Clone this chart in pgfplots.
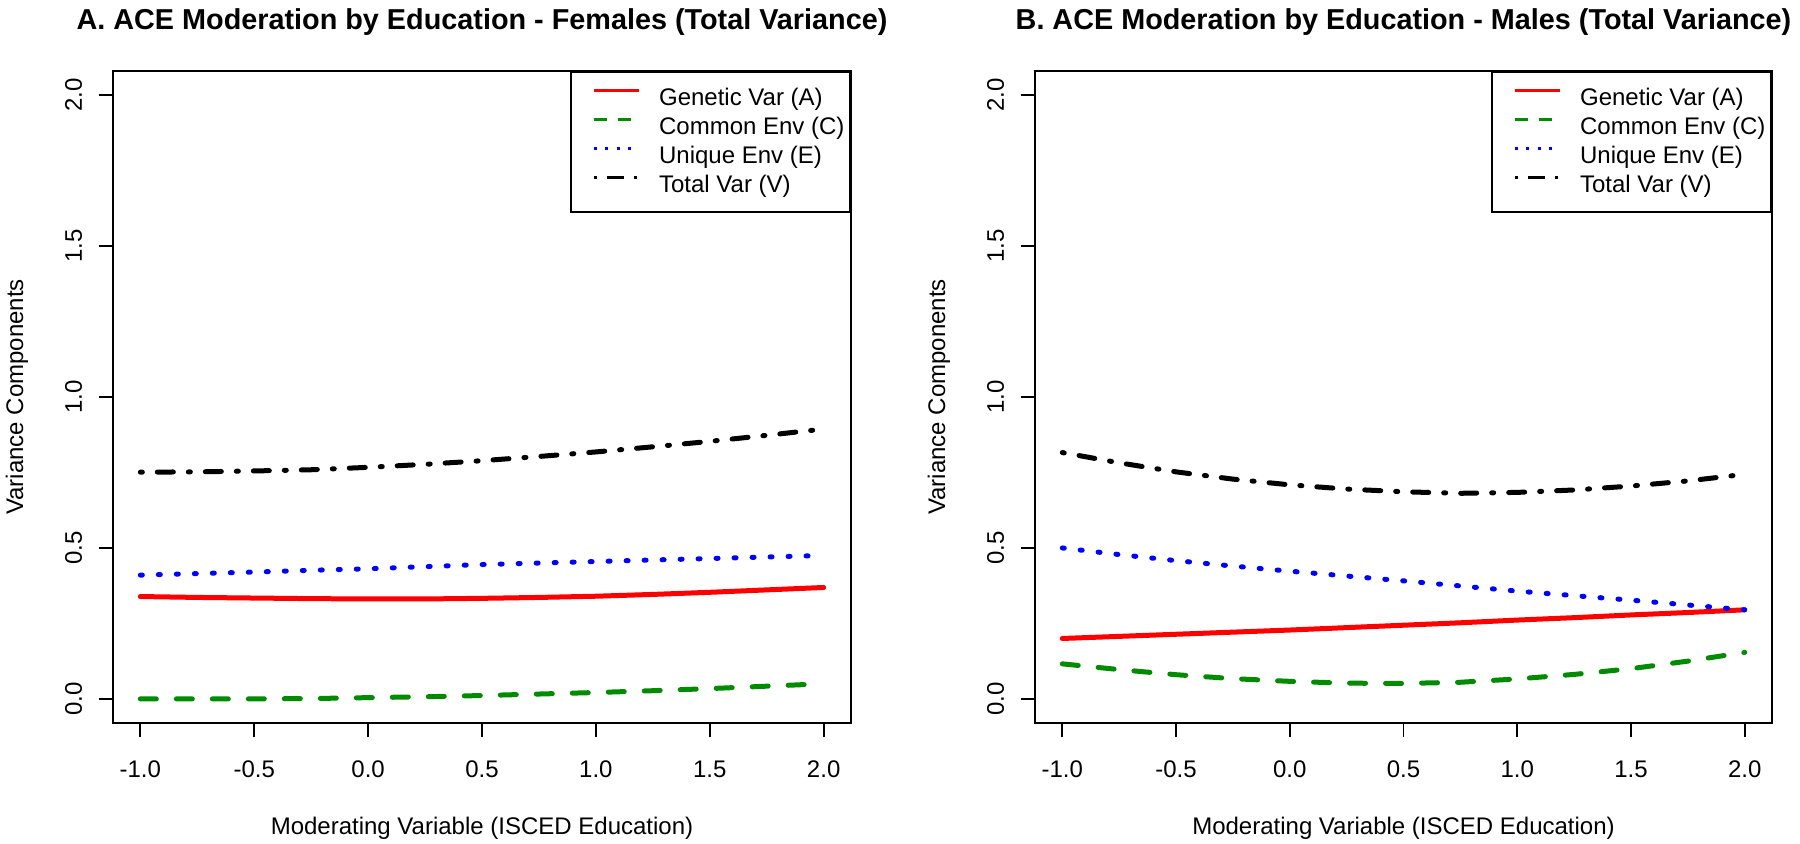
\documentclass[border=0pt]{standalone}
\usepackage{fontspec}
\setmainfont{Liberation Sans}
\usepackage{pgfplots}
\usepackage{pgfplotstable}
\pgfplotsset{compat=1.18}
\definecolor{rgreen}{RGB}{0,139,0}
\definecolor{rred}{RGB}{255,0,0}
\definecolor{rblue}{RGB}{0,0,255}

% Females
\pgfplotstableread{
x A C E V
-1.00 0.339 0.000 0.410 0.751
-0.75 0.336 0.000 0.415 0.752
-0.50 0.334 0.000 0.420 0.755
-0.25 0.332 0.001 0.426 0.759
0.00 0.331 0.004 0.431 0.767
0.25 0.331 0.007 0.438 0.777
0.50 0.333 0.011 0.445 0.789
0.75 0.336 0.016 0.450 0.803
1.00 0.340 0.021 0.455 0.818
1.25 0.346 0.027 0.460 0.835
1.50 0.353 0.034 0.465 0.853
1.75 0.361 0.042 0.470 0.873
2.00 0.369 0.050 0.475 0.894
}\female

% Males
\pgfplotstableread{
x A C E V
-1.00 0.200 0.116 0.500 0.816
-0.75 0.207 0.097 0.478 0.782
-0.50 0.214 0.080 0.458 0.752
-0.25 0.221 0.067 0.440 0.728
0.00 0.228 0.058 0.423 0.709
0.25 0.236 0.052 0.407 0.695
0.50 0.244 0.051 0.391 0.686
0.75 0.252 0.055 0.374 0.681
1.00 0.261 0.066 0.357 0.684
1.25 0.269 0.081 0.342 0.692
1.50 0.278 0.100 0.327 0.705
1.75 0.286 0.125 0.311 0.722
2.00 0.295 0.154 0.295 0.744
}\male

\pgfplotsset{
  rpanel/.style={
    scale only axis,
    width=369pt, height=326pt,
    anchor=south west,
    xmin=-1.12, xmax=2.12, ymin=-0.08, ymax=2.08,
    xtick={-1,-0.5,0,0.5,1,1.5,2},
    xticklabels={-1.0,-0.5,0.0,0.5,1.0,1.5,2.0},
    ytick={0,0.5,1,1.5,2},
    yticklabels={0.0,0.5,1.0,1.5,2.0},
    xtick pos=bottom, ytick pos=left,
    tick align=outside,
    major tick length=7.2pt,
    every tick/.style={black, line width=0.9pt},
    axis line style={line width=0.9pt},
    font=\fontsize{12pt}{14.4pt}\selectfont,
    xticklabel style={anchor=north, inner sep=0pt, yshift=-11.5pt, font=\fontsize{12pt}{14.4pt}\selectfont},
    yticklabel style={xshift=-8pt, rotate=90, anchor=south, inner sep=0pt, font=\fontsize{12pt}{14.4pt}\selectfont},
    every axis x label/.style={at={(axis description cs:0.5,0)}, anchor=center, yshift=-52.5pt, font=\fontsize{12pt}{14.4pt}\selectfont},
    every axis y label/.style={at={(axis description cs:0,0.5)}, anchor=center, xshift=-48pt, rotate=90, font=\fontsize{12pt}{14.4pt}\selectfont},
    title style={at={(axis description cs:0.5,1)}, anchor=base, yshift=15pt, font=\bfseries\fontsize{14.4pt}{17pt}\selectfont},
    xlabel={Moderating Variable (ISCED Education)},
    ylabel={Variance Components},
    legend cell align=left,
    legend style={at={(1,1)}, anchor=north east, draw=black, line width=0.9pt, fill=white,
      inner xsep=0pt, inner ysep=8pt, row sep=4pt,
      font=\fontsize{12pt}{14.4pt}\selectfont,
      nodes={inner sep=0pt}},
    legend image code/.code={\path (0pt,0pt) (43pt,0pt); \draw[##1] (11pt,4pt) -- (33.5pt,4pt);},
  },
  cA/.style={rred, line width=2.5pt, line cap=round, solid,
    legend image post style={line width=1.25pt, line cap=butt}},
  cC/.style={rgreen, line width=2.5pt, line cap=round, dash pattern=on 8pt off 10pt,
    legend image post style={line width=1.25pt, line cap=butt, dash pattern=on 6.5pt off 5.5pt}},
  cE/.style={rblue, line width=2.5pt, line cap=round, dash pattern=on 1pt off 8pt,
    legend image post style={line width=1.25pt, line cap=butt, dash pattern=on 1.5pt off 4.2pt}},
  cV/.style={black, line width=2.5pt, line cap=round, dash pattern=on 1pt off 7.5pt on 8pt off 7.5pt,
    legend image post style={line width=1.25pt, line cap=butt, dash pattern=on 1.5pt off 5pt on 8.5pt off 5pt}},
}
\newcommand{\lent}[1]{\makebox[95.5pt][l]{\rule[-3pt]{0pt}{12pt}#1}}

\begin{document}
\begin{tikzpicture}
\path[use as bounding box] (0,0) rectangle (900pt,421.5pt);
\begin{axis}[rpanel, at={(56.5pt,60pt)},
  title={A. ACE Moderation by Education - Females (Total Variance)}]
\addplot[cA] table[x=x,y=A] {\female};
\addlegendentry{\lent{Genetic Var (A)}}
\addplot[cC] table[x=x,y=C] {\female};
\addlegendentry{\lent{Common Env (C)}}
\addplot[cE] table[x=x,y=E] {\female};
\addlegendentry{\lent{Unique Env (E)}}
\addplot[cV] table[x=x,y=V] {\female};
\addlegendentry{\lent{Total Var (V)}}
\end{axis}
\begin{axis}[rpanel, at={(517.5pt,60pt)}, width=368.5pt,
  title={B. ACE Moderation by Education - Males (Total Variance)}]
\addplot[cA] table[x=x,y=A] {\male};
\addlegendentry{\lent{Genetic Var (A)}}
\addplot[cC] table[x=x,y=C] {\male};
\addlegendentry{\lent{Common Env (C)}}
\addplot[cE] table[x=x,y=E] {\male};
\addlegendentry{\lent{Unique Env (E)}}
\addplot[cV] table[x=x,y=V] {\male};
\addlegendentry{\lent{Total Var (V)}}
\end{axis}
\end{tikzpicture}
\end{document}
